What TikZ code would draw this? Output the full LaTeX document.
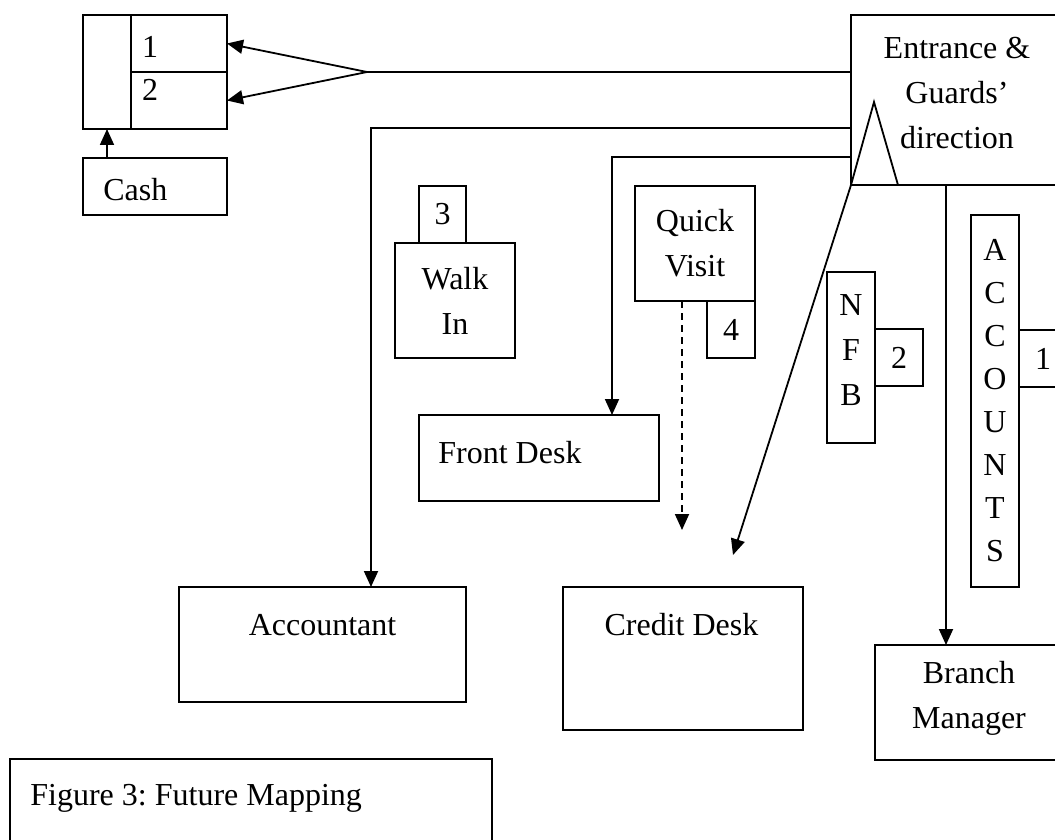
\documentclass[tikz,border=0pt]{standalone}
\usepackage{fontspec}
\setmainfont{Liberation Serif}
\usetikzlibrary{arrows.meta,positioning}
\frenchspacing

\begin{document}
\begin{tikzpicture}[x=0.5pt,y=-0.5pt,font=\fontsize{16pt}{22.5pt}\selectfont,
  box/.style={draw,line width=0.9pt,inner sep=0pt,outer sep=0pt,anchor=north west,align=center},
  lbl/.style={inner sep=0pt,align=center,anchor=center},
  flow/.style={line width=0.9pt,-{Triangle[length=8pt,width=7pt]}}]
\clip (0,0) rectangle (1055,840);
\node[box,minimum width=24pt,minimum height=57pt] (till) at (83,15) {};
\node[box,minimum width=48pt,minimum height=28.5pt,
  label={[lbl,xshift=-14.5pt,yshift=-16pt]north:1}] (win1) at (till.north east) {};
\node[box,minimum width=48pt,minimum height=28.5pt,below=0pt of win1,
  label={[lbl,xshift=-14.5pt,yshift=-9pt]north:2}] (win2) {};
\node[box,minimum width=72pt,minimum height=28.5pt,
  label={[lbl,anchor=west,xshift=10pt,yshift=-1.75pt]west:Cash}] (cash) at (83,158) {};
\node[box,minimum width=106pt,minimum height=85pt,
  label={[lbl,yshift=-39pt]north:Entrance \&\\Guards'\\direction}] (ent) at (851,15) {};
\node[box,minimum width=60pt,minimum height=57.5pt] (walk) at (395,243) {Walk\\In};
\node[box,minimum width=23.5pt,minimum height=28.5pt,anchor=south west] (walknum)
  at ([xshift=12pt]walk.north west) {3};
\node[box,minimum width=60pt,minimum height=57.5pt] (quick) at (635,186) {Quick\\Visit};
\node[box,minimum width=24pt,minimum height=28.5pt,anchor=north east] (quicknum)
  at (quick.south east) {4};
\node[box,minimum width=120pt,minimum height=43pt,
  label={[lbl,anchor=west,xshift=9.5pt,yshift=2.75pt]west:Front Desk}] (front) at (419,415) {};
\node[box,minimum width=24pt,minimum height=85.5pt,
  label={[lbl,yshift=-39pt]north:N\\F\\B}] (nfb) at (827,272) {};
\node[box,minimum width=24pt,minimum height=28.5pt] (nfbnum)
  at ([yshift=-28.5pt]nfb.north east) {2};
\node[box,minimum width=24pt,minimum height=186pt,font=\fontsize{16pt}{21.5pt}\selectfont]
  (accts) at (971,215) {A\\C\\C\\O\\U\\N\\T\\S};
\node[box,minimum width=24pt,minimum height=28.5pt] (acctsnum)
  at ([yshift=-57.5pt]accts.north east) {1};
\node[box,minimum width=143.5pt,minimum height=57.5pt,
  label={[lbl,yshift=-19pt]north:Accountant}] (acct) at (179,587) {};
\node[box,minimum width=120pt,minimum height=71.5pt,
  label={[lbl,xshift=-0.75pt,yshift=-19pt]north:Credit Desk}] (credit) at (563,587) {};
\node[box,minimum width=94pt,minimum height=57.5pt,
  label={[lbl,yshift=-26.75pt]north:Branch\\Manager}] (mgr) at (875,645) {};
\node[box,minimum width=241pt,minimum height=43pt,
  label={[lbl,anchor=west,xshift=10pt,yshift=1.75pt]west:Figure 3: Future Mapping}] (fig) at (10,759) {};

\coordinate (fork) at (367,72);
\draw[line width=0.9pt] (fork -| ent.west) -- (fork);
\draw[flow] (fork) -- (win1.east);
\draw[flow] (fork) -- (win2.east);
\draw[flow] (cash.north -| till.south) -- (till.south);
\coordinate (accturn) at (371,128);
\draw[flow] (accturn -| ent.west) -- (accturn) -- (accturn |- acct.north);
\coordinate (frontturn) at (612,157);
\draw[flow] (frontturn -| ent.west) -- (frontturn) -- (frontturn |- front.north);
\draw[line width=0.9pt] (ent.south west) -- (874,102) -- (898,185);
\coordinate (creditin) at (733,555);
\draw[flow] (ent.south west) -- (creditin);
\coordinate (quickout) at (682,530);
\draw[flow,dash pattern=on 3.5pt off 2.5pt] (quickout |- quick.south) -- (quickout);
\coordinate (mgrin) at (946,645);
\draw[flow] (mgrin |- ent.south) -- (mgrin |- mgr.north);
\end{tikzpicture}
\end{document}
